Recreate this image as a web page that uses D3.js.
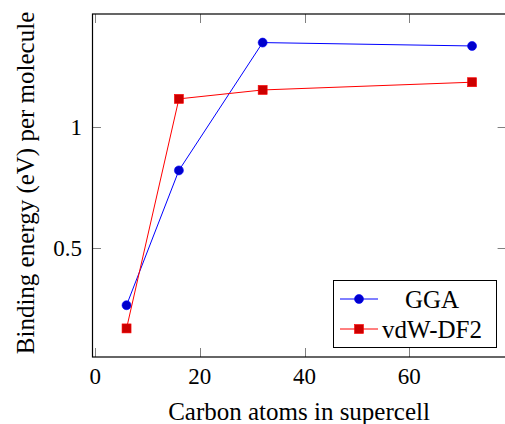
<!DOCTYPE html>
<html>
<head>
<meta charset="utf-8">
<script src="https://cdn.jsdelivr.net/npm/d3@7"></script>
<style>
  body { margin: 0; background: #fff; }
  text { font-family: "Liberation Serif", "DejaVu Serif", serif; fill: #000; }
</style>
</head>
<body>
<svg id="chart" width="505" height="424"></svg>
<script>
// carbon atoms in the supercell
var atoms = [6, 16, 32, 72];
// binding energy (eV) per molecule
var gga = [0.264, 0.822, 1.351, 1.337];
var vdw = [0.168, 1.118, 1.155, 1.187];
var xTicks = [0, 20, 40, 60];
var yTicks = [0.5, 1];
var seriesNames = ["GGA", "vdW-DF2"];

var svg = d3.select("#chart");
var mLeft = 92, mTop = 14, mRight = 506.6, mBottom = 357;

// pgfplots style: enlarge limits by 10% on each side
function enlarge(vals) {
    var lo = d3.min(vals), hi = d3.max(vals), pad = (hi - lo) * 0.1;
    return [lo - pad, hi + pad];
}

var x = d3.scaleLinear().domain(enlarge(atoms)).range([mLeft, mRight]);
var y = d3.scaleLinear().domain(enlarge(gga.concat(vdw))).range([mBottom, mTop]);

var tickSize = 23, labelSize = 25;

// ticks (inside, on both sides)
var tickG = svg.append("g").attr("stroke", "#808080").attr("stroke-width", 1);
xTicks.forEach(function (t) {
    var px = Math.round(x(t)) + 0.5;
    tickG.append("line").attr("x1", px).attr("x2", px).attr("y1", mBottom).attr("y2", mBottom - 9);
    tickG.append("line").attr("x1", px).attr("x2", px).attr("y1", mTop).attr("y2", mTop + 9);
});
yTicks.forEach(function (t) {
    var py = Math.round(y(t)) + 0.5;
    tickG.append("line").attr("x1", mLeft).attr("x2", mLeft + 9).attr("y1", py).attr("y2", py);
    tickG.append("line").attr("x1", mRight).attr("x2", mRight - 9).attr("y1", py).attr("y2", py);
});

// axis box
svg.append("rect")
    .attr("x", mLeft + 0.5).attr("y", mTop)
    .attr("width", mRight - mLeft).attr("height", mBottom - mTop)
    .attr("fill", "none").attr("stroke", "#000").attr("stroke-width", 1.2);

// tick labels
xTicks.forEach(function (t) {
    svg.append("text")
        .attr("x", x(t)).attr("y", 376)
        .attr("dy", "0.35em")
        .attr("text-anchor", "middle")
        .style("font-size", tickSize + "px")
        .text(t);
});
yTicks.forEach(function (t) {
    svg.append("text")
        .attr("x", 82).attr("y", y(t))
        .attr("dy", "0.35em")
        .attr("text-anchor", "end")
        .style("font-size", tickSize + "px")
        .text(t);
});

// axis labels
svg.append("text")
    .attr("x", 299).attr("y", 411)
    .attr("dy", "0.35em")
    .attr("text-anchor", "middle")
    .style("font-size", labelSize + "px")
    .text("Carbon atoms in supercell");

svg.append("text")
    .attr("transform", "translate(25,183) rotate(-90)")
    .attr("dy", "0.35em")
    .attr("text-anchor", "middle")
    .style("font-size", labelSize + "px")
    .text("Binding energy (eV) per molecule");

var line = d3.line()
    .x(function (d) { return x(d[0]); })
    .y(function (d) { return y(d[1]); });

var colors = ["#0000ff", "#ff0000"];
var fills = ["#0000cc", "#cc0000"];

function drawMarker(g, i, cx, cy) {
    if (i === 0) {
        g.append("circle").attr("cx", cx).attr("cy", cy).attr("r", 4.5)
            .attr("fill", fills[i]).attr("stroke", colors[i]).attr("stroke-width", 0.6);
    } else {
        g.append("rect").attr("x", cx - 4.5).attr("y", cy - 4.5).attr("width", 9).attr("height", 9)
            .attr("fill", fills[i]).attr("stroke", colors[i]).attr("stroke-width", 0.6);
    }
}

[gga, vdw].forEach(function (vals, i) {
    var pts = atoms.map(function (a, k) { return [a, vals[k]]; });
    var g = svg.append("g");
    g.append("path").datum(pts)
        .attr("d", line)
        .attr("fill", "none")
        .attr("stroke", colors[i])
        .attr("stroke-width", 1);
    pts.forEach(function (p) { drawMarker(g, i, x(p[0]), y(p[1])); });
});

// legend
var leg = svg.append("g");
leg.append("rect")
    .attr("x", 333.5).attr("y", 280.5).attr("width", 163).attr("height", 67)
    .attr("fill", "#fff").attr("stroke", "#000").attr("stroke-width", 1);
seriesNames.forEach(function (name, i) {
    var ly = 299 + i * 30;
    leg.append("line").attr("x1", 340).attr("x2", 378).attr("y1", ly).attr("y2", ly)
        .attr("stroke", colors[i]).attr("stroke-width", 1);
    drawMarker(leg, i, 359, ly);
    leg.append("text")
        .attr("x", 432).attr("y", ly)
        .attr("dy", "0.35em")
        .attr("text-anchor", "middle")
        .style("font-size", labelSize + "px")
        .text(name);
});
</script>
</body>
</html>
